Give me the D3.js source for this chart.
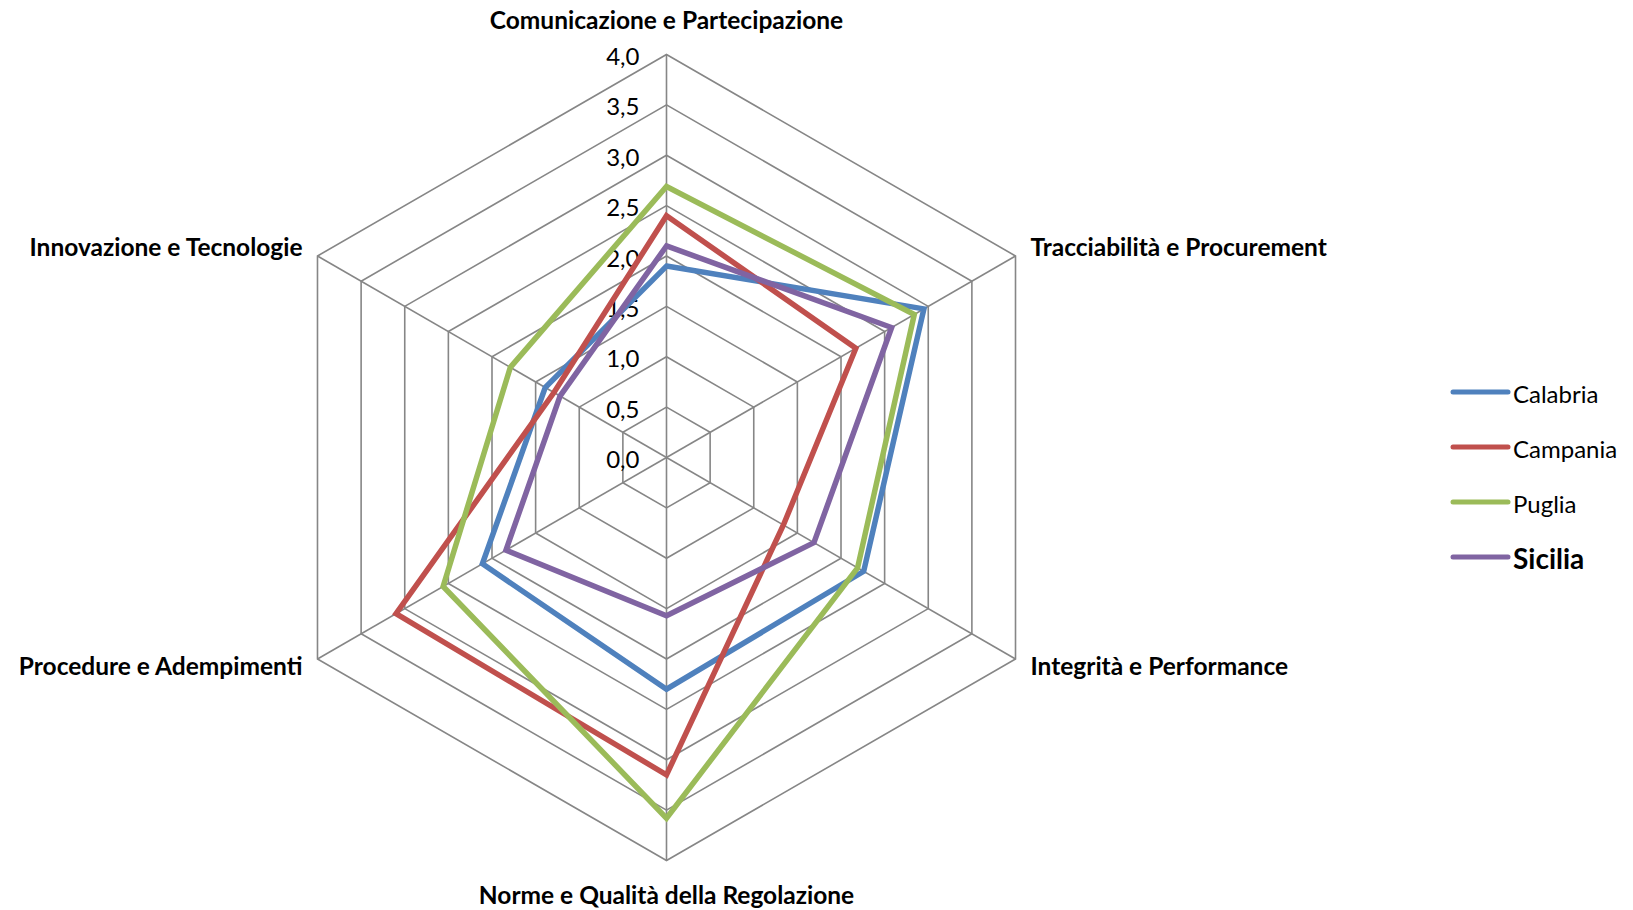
<!DOCTYPE html>
<html>
<head>
<meta charset="utf-8">
<script src="https://cdn.jsdelivr.net/npm/d3@7"></script>
<style>
  body { margin: 0; background: #fff; }
  svg { display: block; font-family: Lato, "Open Sans", sans-serif; }
</style>
</head>
<body>
<div id="chart"></div>
<script>
// axes of the radar, clockwise from the top
var categories = [
    "Comunicazione e Partecipazione",
    "Tracciabilità e Procurement",
    "Integrità e Performance",
    "Norme e Qualità della Regolazione",
    "Procedure e Adempimenti",
    "Innovazione e Tecnologie"
]
var calabria = [1.90, 2.95, 2.26, 2.30, 2.11, 1.39]
var campania = [2.40, 2.17, 1.34, 3.15, 3.10, 1.29]
var puglia = [2.69, 2.84, 2.19, 3.58, 2.56, 1.79]
var sicilia = [2.10, 2.58, 1.69, 1.57, 1.84, 1.22]
var seriesNames = ["Calabria", "Campania", "Puglia", "Sicilia"]
var tickValues = [0, 0.5, 1, 1.5, 2, 2.5, 3, 3.5, 4]

var width = 1633, height = 910
var cx = 666.5, cy = 457.5, R = 403

var svg = d3.select("#chart")
    .append("svg")
    .attr("width", width)
    .attr("height", height)

svg.append("rect").attr("width", width).attr("height", height).attr("fill", "#fff")

var g = svg.append("g").attr("transform", "translate(" + cx + "," + cy + ")")

// radial scale + angle per category
var r = d3.scaleLinear().domain([0, 4]).range([0, R])
var angle = d3.scalePoint().domain(d3.range(categories.length + 1)).range([0, 2 * Math.PI])

var radarLine = d3.lineRadial()
    .angle(function (d, i) { return angle(i) })
    .radius(function (d) { return r(d) })
    .curve(d3.curveLinearClosed)

// hexagon rings
tickValues.slice(1).forEach(function (t) {
    g.append("path")
        .attr("d", radarLine(categories.map(function () { return t })))
        .attr("fill", "none")
        .attr("stroke", "#868686")
        .attr("stroke-width", 1.6)
})

// spokes
categories.forEach(function (c, i) {
    var a = angle(i) - Math.PI / 2
    g.append("line")
        .attr("x1", 0).attr("y1", 0)
        .attr("x2", r(4) * Math.cos(a)).attr("y2", r(4) * Math.sin(a))
        .attr("stroke", "#868686")
        .attr("stroke-width", 1.6)
})

// tick labels along the top spoke
var fmt = function (v) { return d3.format(".1f")(v).replace(".", ",") }
tickValues.forEach(function (t) {
    g.append("text")
        .attr("x", -27)
        .attr("y", -r(t) + 1)
        .attr("text-anchor", "end")
        .attr("dominant-baseline", "central")
        .style("font-size", "24px")
        .attr("fill", "#000")
        .text(fmt(t))
})

// category labels
var labelPos = [
    { x: 0, y: -438, anchor: "middle" },
    { x: 364, y: -211, anchor: "start" },
    { x: 364, y: 208, anchor: "start" },
    { x: 0, y: 437, anchor: "middle" },
    { x: -364, y: 208, anchor: "end" },
    { x: -364, y: -211, anchor: "end" }
]
categories.forEach(function (c, i) {
    g.append("text")
        .attr("x", labelPos[i].x)
        .attr("y", labelPos[i].y)
        .attr("text-anchor", labelPos[i].anchor)
        .attr("dominant-baseline", "central")
        .style("font-size", "24.5px")
        .style("font-weight", "bold")
        .text(c)
})

// series
var color = d3.scaleOrdinal()
    .domain(seriesNames)
    .range(["#4F81BD", "#C0504D", "#9BBB59", "#8064A2"])
var allSeries = [calabria, campania, puglia, sicilia]

allSeries.forEach(function (s, i) {
    g.append("path")
        .attr("d", radarLine(s))
        .attr("fill", "none")
        .attr("stroke", color(seriesNames[i]))
        .attr("stroke-width", 5.5)
        .attr("stroke-linejoin", "miter")
})

// legend
var legend = svg.append("g").attr("transform", "translate(1453,392)")
seriesNames.forEach(function (name, i) {
    var bold = name === "Sicilia"
    legend.append("line")
        .attr("x1", 0).attr("x2", 55)
        .attr("y1", i * 55).attr("y2", i * 55)
        .attr("stroke", color(name))
        .attr("stroke-width", 5)
        .attr("stroke-linecap", "round")
    legend.append("text")
        .attr("x", 60)
        .attr("y", i * 55 + 1)
        .attr("dominant-baseline", "central")
        .style("font-size", bold ? "28px" : "24px")
        .style("font-weight", bold ? "bold" : "normal")
        .text(name)
})
</script>
</body>
</html>
